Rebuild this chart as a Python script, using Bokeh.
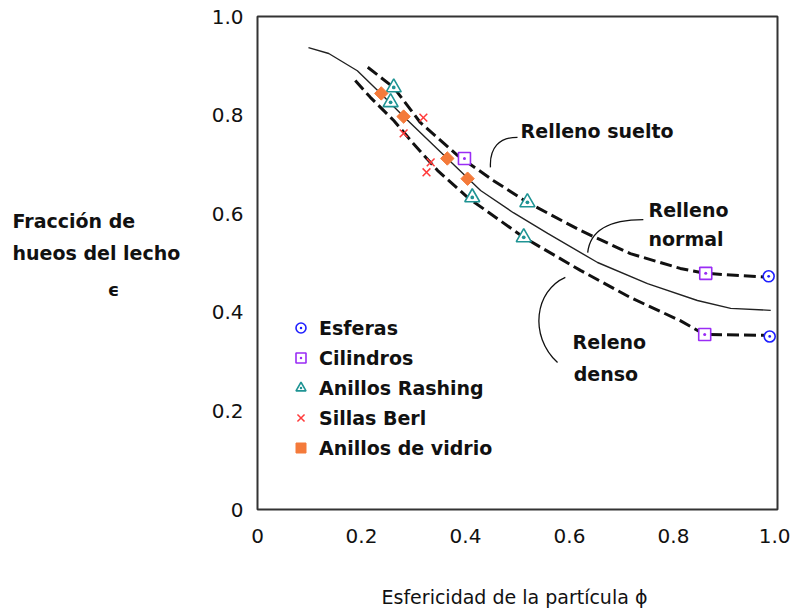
from bokeh.plotting import figure
from bokeh.layouts import row
from bokeh.models import Range1d, FixedTicker, Legend, LegendItem
from bokeh.embed import file_html
from bokeh.resources import INLINE
from bokeh.core.properties import value

FONT = "DejaVu Sans"

# ---------------- data ----------------
x_ticks = [0, 0.2, 0.4, 0.6, 0.8, 1.0]
x_tick_labels = ["0", "0.2", "0.4", "0.6", "0.8", "1.0"]
y_ticks = [0, 0.2, 0.4, 0.6, 0.8, 1.0]
y_tick_labels = ["0", "0.2", "0.4", "0.6", "0.8", "1.0"]

# curves
suelto_x = [0.212, 0.262, 0.313, 0.385, 0.454, 0.519, 0.621, 0.717, 0.813, 0.862, 0.981]
suelto_y = [0.897, 0.856, 0.785, 0.718, 0.667, 0.623, 0.566, 0.519, 0.489, 0.479, 0.471]

normal_x = [0.098, 0.137, 0.192, 0.237, 0.281, 0.365, 0.429, 0.492, 0.558, 0.654, 0.750, 0.846, 0.910, 0.987]
normal_y = [0.937, 0.925, 0.890, 0.844, 0.797, 0.712, 0.647, 0.602, 0.560, 0.501, 0.458, 0.424, 0.408, 0.404]

denso_x = [0.188, 0.217, 0.262, 0.300, 0.346, 0.404, 0.512, 0.621, 0.717, 0.813, 0.860, 0.987]
denso_y = [0.870, 0.836, 0.789, 0.742, 0.688, 0.633, 0.552, 0.485, 0.430, 0.383, 0.355, 0.353]

# measured points
esferas_x = [0.983, 0.985]
esferas_y = [0.473, 0.351]
cilindros_x = [0.398, 0.862, 0.860]
cilindros_y = [0.712, 0.479, 0.355]
rashing_x = [0.262, 0.256, 0.413, 0.519, 0.512]
rashing_y = [0.856, 0.826, 0.633, 0.623, 0.552]
berl_x = [0.319, 0.281, 0.333, 0.325]
berl_y = [0.795, 0.763, 0.704, 0.684]
vidrio_x = [0.238, 0.281, 0.365, 0.404]
vidrio_y = [0.844, 0.797, 0.712, 0.671]

# curve annotations
note_text = ["Relleno suelto", "Relleno", "normal", "Releno", "denso"]
note_x = [0.506, 0.752, 0.752, 0.606, 0.608]
note_y = [0.767, 0.608, 0.549, 0.339, 0.274]

# leader curves (cubic bezier): start, control 0, control 1, end
lead_x0 = [0.448, 0.635, 0.592]
lead_y0 = [0.694, 0.521, 0.471]
lead_cx0 = [0.446, 0.640, 0.534]
lead_cy0 = [0.734, 0.570, 0.444]
lead_cx1 = [0.465, 0.683, 0.521]
lead_cy1 = [0.755, 0.588, 0.353]
lead_x1 = [0.500, 0.742, 0.577]
lead_y1 = [0.755, 0.588, 0.298]

x_title = "Esfericidad de la partícula  ϕ"
# y title, written horizontally left of the axis (x in px of the side panel)
y_title_lines = ["Fracción de", "hueos del lecho"]
y_title_x = [12, 12]
y_title_y = [0.586, 0.521]
y_symbol = ["ϵ"]
y_symbol_x = [113]
y_symbol_y = [0.446]

# ---------------- figures ----------------
side = figure(width=200, height=612, x_range=Range1d(0, 200), y_range=Range1d(0, 1),
              output_backend="svg", toolbar_location=None,
              x_axis_location=None, y_axis_location=None,
              min_border_left=0, min_border_right=0, min_border_top=16, min_border_bottom=103)
side.grid.visible = False
side.outline_line_color = None
side.border_fill_color = "white"
side.background_fill_color = "white"
side.text(x=y_title_x, y=y_title_y, text=y_title_lines, text_font=value(FONT),
          text_font_size="19px", text_font_style="bold", text_color="#111111",
          text_align="left", text_baseline="alphabetic")
side.text(x=y_symbol_x, y=y_symbol_y, text=y_symbol, text_font=value(FONT),
          text_font_size="18px", text_font_style="bold", text_color="#111111",
          text_align="center", text_baseline="alphabetic")

p = figure(width=590, height=612, x_range=Range1d(0, 1), y_range=side.y_range,
           output_backend="svg", toolbar_location=None,
           min_border_left=57, min_border_right=13, min_border_top=16, min_border_bottom=103)
p.grid.visible = False
p.outline_line_color = "#333333"
p.outline_line_width = 2
p.background_fill_color = "white"
p.border_fill_color = "white"

for ax, ticks, labels in ((p.xaxis, x_ticks, x_tick_labels), (p.yaxis, y_ticks, y_tick_labels)):
    ax.ticker = FixedTicker(ticks=ticks)
    ax.major_label_overrides = {t: l for t, l in zip(ticks, labels)}
    ax.axis_line_color = None
    ax.major_tick_line_color = None
    ax.minor_tick_line_color = None
    ax.major_tick_out = 0
    ax.major_tick_in = 0
    ax.minor_tick_out = 0
    ax.minor_tick_in = 0
    ax.major_label_text_font = FONT
    ax.major_label_text_font_size = "20px"
    ax.major_label_text_color = "#111111"

p.xaxis.major_label_standoff = 19
p.yaxis.major_label_standoff = 14
p.xaxis.axis_label = x_title
p.xaxis.axis_label_text_font = FONT
p.xaxis.axis_label_text_font_size = "19px"
p.xaxis.axis_label_text_font_style = "normal"
p.xaxis.axis_label_text_color = "#111111"
p.xaxis.axis_label_standoff = 40

# curves
p.line(suelto_x, suelto_y, line_color="#111111", line_width=3, line_dash="12 5")
p.line(denso_x, denso_y, line_color="#111111", line_width=3, line_dash="12 5")
p.line(normal_x, normal_y, line_color="#222222", line_width=1.4)

# leaders
p.bezier(x0=lead_x0, y0=lead_y0, x1=lead_x1, y1=lead_y1,
         cx0=lead_cx0, cy0=lead_cy0, cx1=lead_cx1, cy1=lead_cy1,
         line_color="#111111", line_width=1.3)

# notes
p.text(x=note_x, y=note_y, text=note_text, text_font=value(FONT), text_font_size="19px",
       text_font_style="bold", text_align="left", text_baseline="alphabetic",
       text_color="#111111")

# markers
r_esf = p.scatter(esferas_x, esferas_y, marker="circle_dot", size=11, line_color="#1f1fff",
                  line_width=1.6, fill_color="white")
r_cil = p.scatter(cilindros_x, cilindros_y, marker="square_dot", size=12, line_color="#9a2cf5",
                  line_width=1.6, fill_color="white")
r_ras = p.scatter(rashing_x, rashing_y, marker="triangle_dot", size=15, line_color="#1f9494",
                  line_width=1.6, fill_color="white")
r_ber = p.scatter(berl_x, berl_y, marker="x", size=11, line_color="#ff3b3b", line_width=1.5)
r_vid = p.scatter(vidrio_x, vidrio_y, marker="square", angle=0.785398, size=9.5,
                  line_color="#f47a3a", fill_color="#f47a3a", line_width=1)

legend = Legend(items=[
    LegendItem(label="Esferas", renderers=[r_esf]),
    LegendItem(label="Cilindros", renderers=[r_cil]),
    LegendItem(label="Anillos Rashing", renderers=[r_ras]),
    LegendItem(label="Sillas Berl", renderers=[r_ber]),
    LegendItem(label="Anillos de vidrio", renderers=[r_vid]),
], location=(31, 49), glyph_width=25, glyph_height=25, label_height=25, spacing=5,
    padding=0, margin=0, border_line_color=None, background_fill_alpha=0,
    label_text_font=FONT, label_text_font_size="19px", label_text_font_style="bold",
    label_text_color="#111111", label_standoff=6)
p.add_layout(legend)

layout = row(side, p, spacing=0)
open("out.html", "w").write(file_html(layout, INLINE))
